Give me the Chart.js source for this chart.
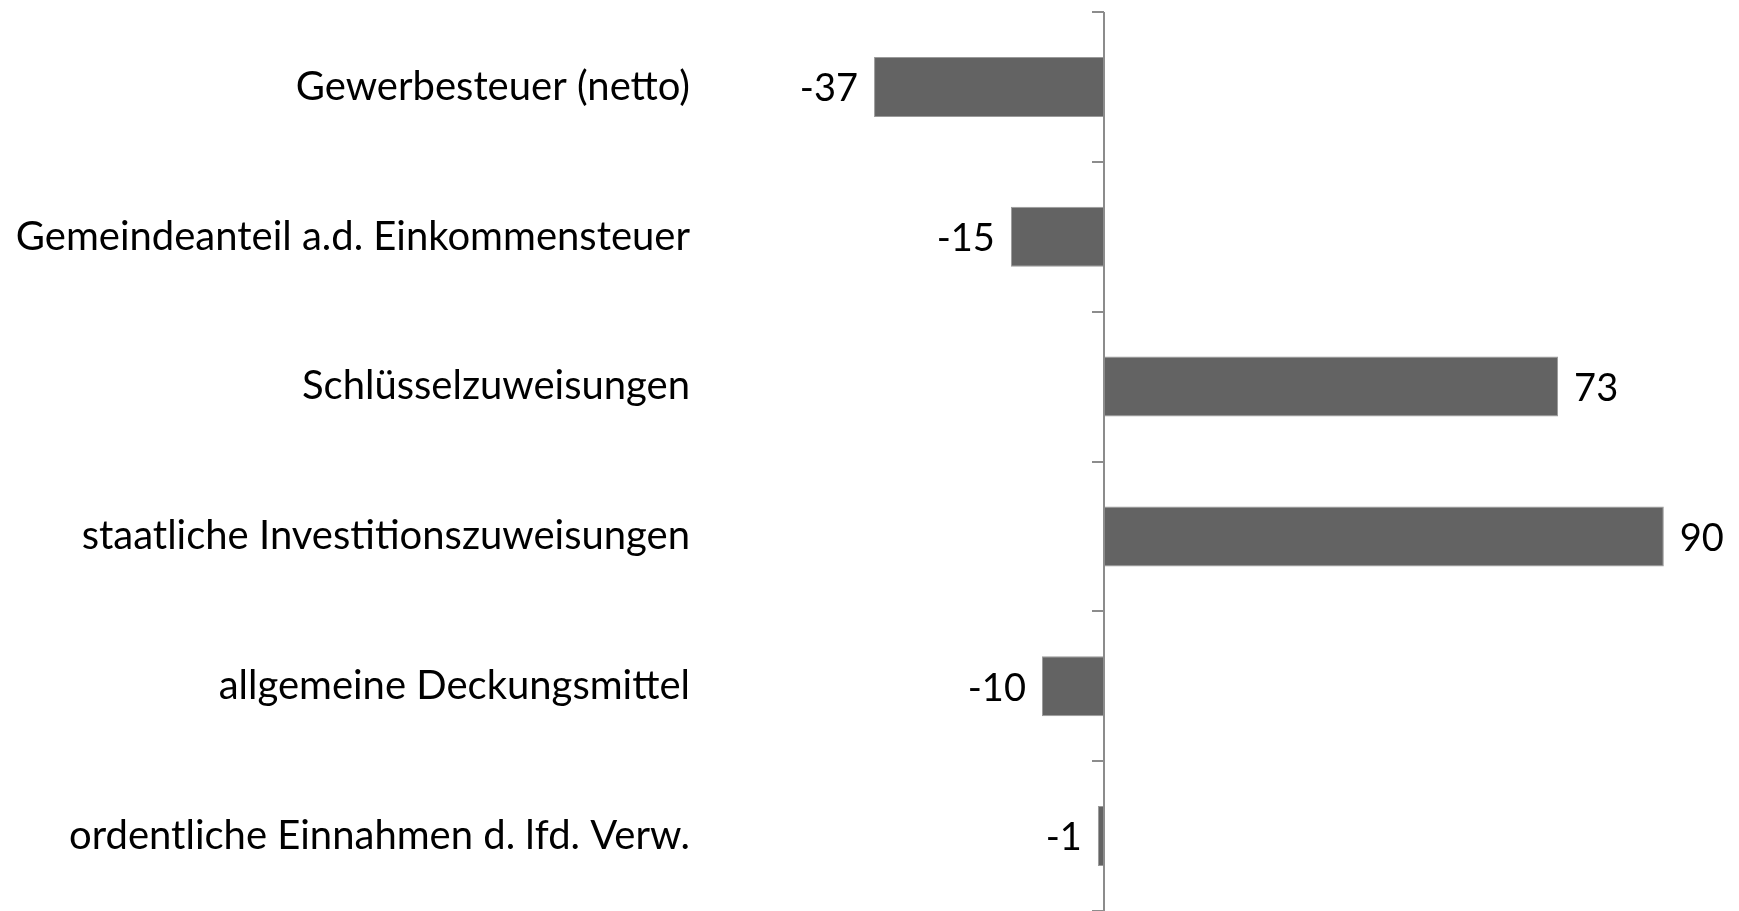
<!DOCTYPE html>
<html>
<head>
<meta charset="utf-8">
<script src="https://cdn.jsdelivr.net/npm/chart.js@4"></script>
<style>
  html, body { margin: 0; padding: 0; background: #fff; }
  #wrap { width: 1739px; height: 911px; }
</style>
</head>
<body>
<div id="wrap"><canvas id="barChart"></canvas></div>
<script>
// categories and values
const categories = [
  'Gewerbesteuer (netto)',
  'Gemeindeanteil a.d. Einkommensteuer',
  'Schlüsselzuweisungen',
  'staatliche Investitionszuweisungen',
  'allgemeine Deckungsmittel',
  'ordentliche Einnahmen d. lfd. Verw.'
];
const values = [-37, -15, 73, 90, -10, -1];

const FONT = 'Lato, "Open Sans", sans-serif';

// zero axis with small category tick marks + value labels next to bars
const axisAndLabels = {
  id: 'axisAndLabels',
  afterDatasetsDraw(chart) {
    const { ctx, chartArea, scales } = chart;
    const x0 = Math.round(scales.x.getPixelForValue(0));
    ctx.save();
    ctx.strokeStyle = '#8c8c8c';
    ctx.lineWidth = 2;
    ctx.beginPath();
    ctx.moveTo(x0, chartArea.top);
    ctx.lineTo(x0, chartArea.bottom + 2);
    // tick marks between categories
    const step = (chartArea.bottom - chartArea.top) / categories.length;
    for (let i = 0; i <= categories.length; i++) {
      const y = Math.round(chartArea.top + i * step);
      ctx.moveTo(x0 - 12, y);
      ctx.lineTo(x0, y);
    }
    ctx.stroke();

    ctx.fillStyle = '#000';
    ctx.font = '38px ' + FONT;
    ctx.textBaseline = 'middle';
    const meta = chart.getDatasetMeta(0);
    meta.data.forEach((bar, i) => {
      const v = values[i];
      if (v < 0) {
        ctx.textAlign = 'right';
        ctx.fillText(String(v), bar.x - 16, bar.y + 2);
      } else {
        ctx.textAlign = 'left';
        ctx.fillText(String(v), bar.x + 16, bar.y + 2);
      }
    });
    ctx.restore();
  }
};

new Chart(document.getElementById('barChart'), {
  type: 'bar',
  data: {
    labels: categories,
    datasets: [{
      data: values,
      backgroundColor: '#636363',
      borderColor: '#9a9a9a',
      borderWidth: 1,
      categoryPercentage: 1,
      barPercentage: 0.4
    }]
  },
  options: {
    indexAxis: 'y',
    responsive: true,
    maintainAspectRatio: false,
    animation: false,
    layout: { padding: { top: 12, right: 13, bottom: 0, left: 0 } },
    plugins: { legend: { display: false }, tooltip: { enabled: false } },
    scales: {
      x: {
        display: false,
        min: -60,
        max: 100
      },
      y: {
        afterFit(scale) {
          scale.width = 731;
          scale.paddingTop = 0;
          scale.paddingBottom = 0;
        },
        grid: { display: false, drawTicks: false },
        border: { display: false },
        ticks: {
          color: '#000',
          padding: 41,
          font: { family: FONT, size: 40 }
        }
      }
    }
  },
  plugins: [axisAndLabels]
});
</script>
</body>
</html>
